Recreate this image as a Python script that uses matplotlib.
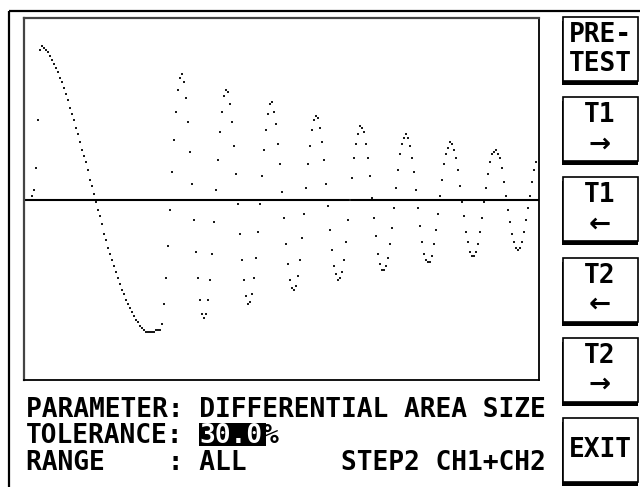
"""Surge comparison screen: sampled ringing waveform with side soft-keys."""

import numpy as np
import matplotlib

matplotlib.use("Agg")

import matplotlib.pyplot as plt
from matplotlib.patches import Rectangle

# waveform samples (screen amplitude, one sample every 2 px)
amplitude = [
    4, 10, 32, 80, 150, 154, 152, 150, 148, 144, 140, 136, 132, 128, 122, 118,
    112, 106, 100, 92, 86, 80, 72, 66, 58, 50, 44, 38, 30, 20, 14, 6,
    -2, -10, -16, -24, -34, -40, -48, -54, -60, -66, -72, -78, -84, -90, -94, -100,
    -104, -108, -112, -116, -120, -122, -126, -128, -130, -132, -132, -132, -132, -132, -130, -130,
    -130, -124, -104, -78, -46, -10, 28, 60, 88, 110, 122, 126, 118, 102, 78, 48,
    16, -20, -52, -78, -100, -114, -118, -114, -100, -80, -54, -22, 10, 40, 68, 88,
    104, 110, 108, 96, 78, 54, 26, -4, -34, -60, -80, -96, -104, -102, -94, -78,
    -58, -32, -4, 24, 50, 70, 86, 96, 98, 88, 76, 56, 36, 8, -18, -44,
    -64, -80, -88, -90, -86, -76, -60, -38, -14, 12, 36, 54, 70, 80, 84, 82,
    72, 58, 40, 16, -6, -30, -50, -66, -74, -80, -78, -72, -60, -42, -20, 0,
    22, 42, 56, 66, 74, 72, 68, 56, 42, 24, 2, -18, -36, -54, -64, -70,
    -70, -66, -58, -44, -28, -8, 12, 30, 46, 56, 62, 66, 62, 54, 42, 28,
    10, -8, -26, -42, -54, -60, -62, -62, -56, -44, -30, -14, 4, 20, 36, 46,
    52, 58, 56, 50, 42, 30, 14, -2, -16, -32, -42, -52, -56, -56, -52, -44,
    -32, -18, -2, 12, 26, 38, 46, 48, 50, 46, 42, 32, 18, 4, -10, -22,
    -34, -42, -48, -50, -48, -42, -32, -20, -8, 4, 18, 30, 38,
]

param_line = "PARAMETER: DIFFERENTIAL AREA SIZE"
tol_label = "TOLERANCE: "
tol_value = "30.0"
range_line = "RANGE    : ALL      STEP2 CH1+CH2"
buttons = [("PRE-", "TEST"), ("T1", "→"), ("T1", "←"), ("T2", "←"), ("T2", "→"), ("EXIT",)]

W, H = 640, 487
font = dict(family="DejaVu Sans Mono", fontweight="bold", fontsize=18.9, color="black")
arrow_font = dict(family="DejaVu Sans", fontweight="bold", fontsize=19, color="black")
char_w = 15.8

fig = plt.figure(figsize=(W / 100, H / 100), dpi=100)
fig.patch.set_facecolor("white")

# screen layer in pixel units (frame, keys, status text)
scr = fig.add_axes([0, 0, 1, 1])
scr.set_xlim(0, W)
scr.set_ylim(H, 0)
scr.axis("off")
scr.plot([9, W], [11, 11], color="black", lw=1.6, solid_capstyle="butt")
scr.plot([9, 9], [11, H], color="black", lw=1.6, solid_capstyle="butt")

for i, label in enumerate(buttons):
    top = 17 + i * 80.2
    scr.add_patch(Rectangle((561.5, top + 4), 76, 64, facecolor="black", edgecolor="none"))
    scr.add_patch(Rectangle((562.5, top), 75, 64, facecolor="white", edgecolor="black", lw=1.2))
    if len(label) == 1:
        scr.text(600, top + 32, label[0], ha="center", va="center", **font)
    else:
        scr.text(600, top + 18, label[0], ha="center", va="center", **font)
        second = arrow_font if label[1] in "→←" else font
        scr.text(600, top + 47, label[1], ha="center", va="center", **second)

x0 = 26
scr.text(x0, 417, param_line, ha="left", va="baseline", **font)
scr.text(x0, 443, tol_label.strip(), ha="left", va="baseline", **font)
hx = x0 + len(tol_label) * char_w
scr.add_patch(Rectangle((hx - 1, 423), len(tol_value) * char_w + 4, 23,
                        facecolor="black", edgecolor="none"))
scr.text(hx, 443, tol_value, ha="left", va="baseline", zorder=5,
         **{**font, "color": "white"})
scr.text(hx + len(tol_value) * char_w, 443, "%", ha="left", va="baseline", zorder=6, **font)
scr.text(x0, 470, range_line, ha="left", va="baseline", **font)

# waveform window
left, right, top_px, bot_px = 23.5, 539, 17.5, 380
ax = fig.add_axes([left / W, 1 - bot_px / H, (right - left) / W, (bot_px - top_px) / H])
ax.set_facecolor("none")
n = np.arange(len(amplitude))
ax.axhline(0, color="black", lw=1.5, zorder=1)
ax.scatter(n, amplitude, s=2.4, marker="s", color="#1a1a1a", linewidths=0, zorder=2)
ax.set_xlim((left - 32) / 2, (right - 32) / 2)
ax.set_ylim(200 - bot_px, 200 - top_px)
ax.set_xticks([])
ax.set_yticks([])
for side in ("left", "top"):
    ax.spines[side].set_color("#444444")
    ax.spines[side].set_linewidth(1.6)
for side in ("right", "bottom"):
    ax.spines[side].set_color("black")
    ax.spines[side].set_linewidth(1.3)

fig.savefig("out.png", dpi=100)
plt.close(fig)
